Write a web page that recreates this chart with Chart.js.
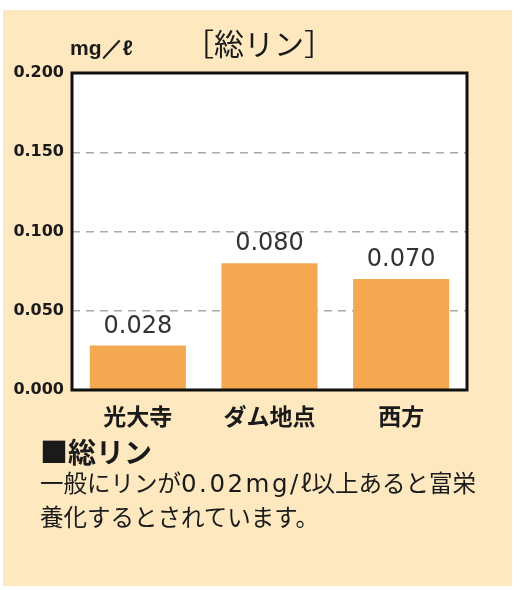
<!DOCTYPE html>
<html>
<head>
<meta charset="utf-8">
<script src="https://cdn.jsdelivr.net/npm/chart.js@4"></script>
<style>
  body { margin: 0; background: #fff; }
  #panel { position: absolute; left: 3px; top: 10px; width: 509px; height: 576px; background: #fde8bf; }
  #wrap { position: absolute; left: 0; top: 0; width: 525px; height: 440px; }
  .txt { position: absolute; font-family: "Noto Sans CJK JP", sans-serif; color: #1a1a1a; white-space: nowrap; }
  .lat { font-family: "DejaVu Sans", sans-serif; font-size: 24.5px; letter-spacing: 2.5px; }
</style>
</head>
<body>
<div id="panel"></div>
<div id="wrap"><canvas id="myChart"></canvas></div>
<div class="txt" style="left:0; width:518px; text-align:center; top:20px; font-size:30px;">［総リン］</div>
<div class="txt" style="left:70px; top:34px; font-size:21px; font-weight:bold; font-family:'Liberation Sans',Arial,sans-serif;">mg／ℓ</div>
<div class="txt" style="left:40px; top:431px; font-size:28px; font-weight:bold;">■総リン</div>
<div class="txt" style="left:40px; top:466px; font-size:23.5px; line-height:33px;">一般にリンが<span class="lat">0.02mg/</span>ℓ以上あると富栄<br>養化するとされています。</div>
<script>
// 地点と総リン (mg/l)
let sites = ["光大寺", "ダム地点", "西方"];
let phosphorus = [0.028, 0.080, 0.070];
let yTicks = [0, 0.05, 0.1, 0.15, 0.2];

// 白地・枠・数値ラベル
const boxPlugin = {
    id: "box",
    beforeDraw(chart) {
        const a = chart.chartArea, ctx = chart.ctx;
        ctx.save();
        ctx.fillStyle = "#fff";
        ctx.fillRect(a.left, a.top, a.right - a.left, a.bottom - a.top);
        ctx.restore();
    },
    afterDraw(chart) {
        const a = chart.chartArea, ctx = chart.ctx;
        ctx.save();
        ctx.strokeStyle = "#111";
        ctx.lineWidth = 3;
        ctx.strokeRect(a.left, a.top, a.right - a.left, a.bottom - a.top);
        ctx.restore();
    },
    afterDatasetsDraw(chart) {
        const ctx = chart.ctx;
        ctx.save();
        ctx.font = "24px 'DejaVu Sans', sans-serif";
        ctx.fillStyle = "#333";
        ctx.textAlign = "center";
        ctx.textBaseline = "alphabetic";
        chart.getDatasetMeta(0).data.forEach(function (bar, i) {
            ctx.fillText(phosphorus[i].toFixed(3), bar.x, bar.y - 13);
        });
        ctx.restore();
    }
};

new Chart("myChart", {
    type: "bar",
    data: {
        labels: sites,
        datasets: [{
            data: phosphorus,
            backgroundColor: "#f4a851",
            barPercentage: 0.73,
            categoryPercentage: 1
        }]
    },
    options: {
        responsive: true,
        maintainAspectRatio: false,
        animation: false,
        layout: {padding: {left: 0, right: 58, top: 73, bottom: 0}},
        plugins: {
            legend: {display: false},
            tooltip: {enabled: false}
        },
        scales: {
            x: {
                grid: {display: false},
                border: {display: false},
                ticks: {
                    color: "#1a1a1a",
                    padding: 4,
                    font: {family: "'Noto Sans CJK JP'", size: 23, weight: "bold"}
                },
                afterFit: function (s) { s.height = 50; }
            },
            y: {
                min: 0,
                max: 0.2,
                afterBuildTicks: function (s) { s.ticks = yTicks.map(v => ({value: v})); },
                grid: {color: "#aaa", lineWidth: 1.5, drawTicks: false},
                border: {display: false, dash: [8, 6]},
                ticks: {
                    color: "#1a1a1a",
                    padding: 8,
                    font: {family: "'DejaVu Sans'", size: 16, weight: "bold"},
                    callback: v => v.toFixed(3)
                },
                afterFit: function (s) { s.width = 72; }
            }
        }
    },
    plugins: [boxPlugin]
});
</script>
</body>
</html>
